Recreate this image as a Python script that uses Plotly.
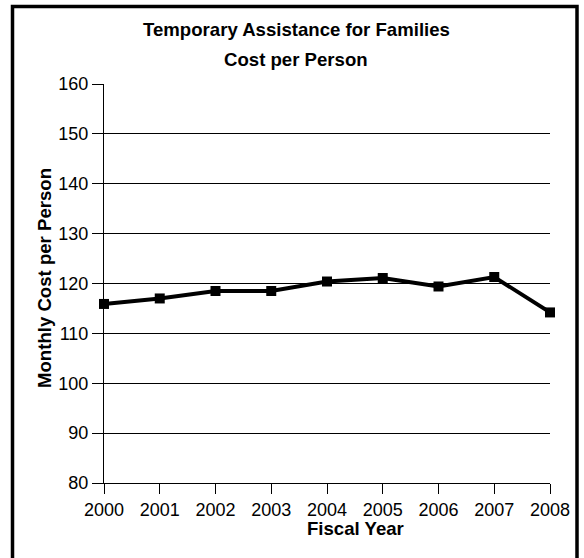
import plotly.graph_objects as go

years = [2000, 2001, 2002, 2003, 2004, 2005, 2006, 2007, 2008]
cost = [115.9, 117.0, 118.5, 118.5, 120.4, 121.1, 119.4, 121.3, 114.2]
y_ticks = [80, 90, 100, 110, 120, 130, 140, 150, 160]

FONT = "Liberation Sans, Arial, sans-serif"
W, H = 584, 558
L, R, T, B = 104, 34, 84, 75
pw, ph = W - L - R, H - T - B

def px_x(px):
    return (px - L) / pw

def px_y(py):
    return (H - B - py) / ph

fig = go.Figure()
fig.add_trace(go.Scatter(
    x=years, y=cost, mode="lines+markers",
    line=dict(color="black", width=4),
    marker=dict(symbol="square", size=10, color="black"),
    cliponaxis=False, showlegend=False,
))

fig.update_layout(
    width=W, height=H,
    margin=dict(l=L, r=R, t=T, b=B),
    paper_bgcolor="white", plot_bgcolor="white",
    font=dict(family=FONT, color="black", size=18),
    xaxis=dict(
        range=[2000, 2008], tickvals=years, ticktext=[str(y) for y in years],
        showgrid=False, zeroline=False, showline=True, linecolor="black", linewidth=1,
        ticks="outside", ticklen=10, tickcolor="black", tickwidth=1,
        tickfont=dict(size=18, family=FONT),
    ),
    yaxis=dict(
        range=[80, 160], tickvals=y_ticks,
        showgrid=True, gridcolor="black", gridwidth=1, zeroline=False,
        showline=True, linecolor="black", linewidth=1,
        ticks="outside", ticklen=11, tickcolor="black", tickwidth=1,
        tickfont=dict(size=18, family=FONT),
    ),
    shapes=[dict(
        type="rect", xref="paper", yref="paper",
        x0=px_x(12.5), x1=px_x(577), y0=px_y(570), y1=px_y(6.5),
        line=dict(color="black", width=3.5), fillcolor="rgba(0,0,0,0)",
    )],
    annotations=[
        dict(text="<b>Temporary Assistance for Families</b>", xref="paper", yref="paper",
             x=px_x(296), y=px_y(30), showarrow=False, font=dict(size=18.6, family=FONT),
             xanchor="center", yanchor="middle"),
        dict(text="<b>Cost per Person</b>", xref="paper", yref="paper",
             x=px_x(296), y=px_y(59), showarrow=False, font=dict(size=18.6, family=FONT),
             xanchor="center", yanchor="middle"),
        dict(text="<b>Monthly Cost per Person</b>", xref="paper", yref="paper",
             x=px_x(44), y=px_y(278), showarrow=False, textangle=-90,
             font=dict(size=18.6, family=FONT), xanchor="center", yanchor="middle"),
        dict(text="<b>Fiscal Year</b>", xref="paper", yref="paper",
             x=px_x(355), y=px_y(528), showarrow=False,
             font=dict(size=18.6, family=FONT), xanchor="center", yanchor="middle"),
    ],
)

fig.write_html("out.html")
